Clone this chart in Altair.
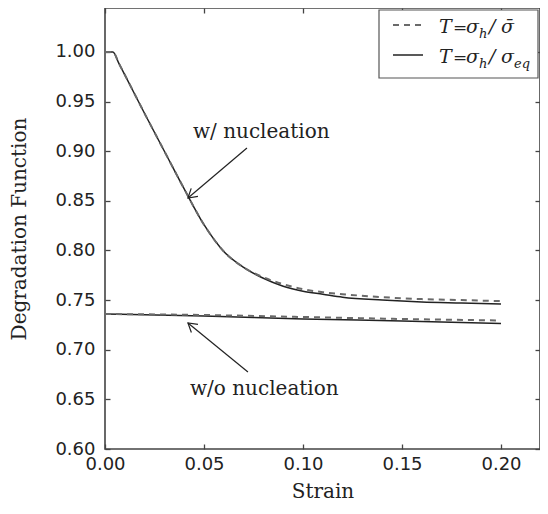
import math
import altair as alt
import pandas as pd

# ---------------- data ----------------
strain_w = [0.0, 0.004, 0.007, 0.01, 0.02, 0.03, 0.04, 0.05, 0.06, 0.07, 0.08, 0.09,
            0.10, 0.11, 0.12, 0.14, 0.16, 0.18, 0.20]
w_nuc_eq = [1.000, 1.000, 0.9885, 0.977, 0.938, 0.900, 0.862, 0.826, 0.799, 0.783, 0.772,
            0.764, 0.759, 0.756, 0.753, 0.750, 0.748, 0.747, 0.746]
w_nuc_bar = [1.000, 1.000, 0.9885, 0.977, 0.938, 0.900, 0.862, 0.826, 0.799, 0.783, 0.773,
             0.766, 0.761, 0.758, 0.756, 0.753, 0.751, 0.750, 0.749]

strain_wo = [0.0, 0.05, 0.10, 0.15, 0.20]
wo_nuc_eq = [0.736, 0.734, 0.731, 0.729, 0.7265]
wo_nuc_bar = [0.736, 0.735, 0.733, 0.731, 0.7295]

x_ticks = [0.0, 0.05, 0.10, 0.15, 0.20]
y_ticks = [0.60, 0.65, 0.70, 0.75, 0.80, 0.85, 0.90, 0.95, 1.00]

ann_labels = ["w/ nucleation", "w/o nucleation"]
ann_text_x = [0.0444, 0.0429]
ann_text_y = [0.9133, 0.6544]
arrow_x0 = [0.0717, 0.0722]
arrow_y0 = [0.9033, 0.6776]
arrow_x1 = [0.0419, 0.0419]
arrow_y1 = [0.8529, 0.7270]

# ---------------- layout ----------------
W, H = 435, 441
XMAX = 0.2197
YMIN, YMAX = 0.60, 1.0443
PX = W / XMAX
PY = H / (YMAX - YMIN)

xs = alt.Scale(domain=[0, XMAX], nice=False, zero=False)
ys = alt.Scale(domain=[YMIN, YMAX], nice=False, zero=False)

INK = "#222222"
AX = "#444444"

common_axis = dict(grid=False, domain=False, tickSize=5, offset=-5,
                   tickColor=AX, tickWidth=1.3, labelFlush=False,
                   labelFont="DejaVu Sans", labelFontSize=18, labelColor=INK,
                   titleFont="DejaVu Serif", titleFontSize=20,
                   titleFontWeight="normal", titleColor=INK)

x_bottom = alt.Axis(orient="bottom", values=x_ticks, format=".2f", title="Strain",
                    labelPadding=6, titlePadding=8, **common_axis)
y_left = alt.Axis(orient="left", values=y_ticks, format=".2f",
                  title="Degradation Function", labelPadding=10, titlePadding=25,
                  **common_axis)
x_top = alt.Axis(orient="top", values=x_ticks, labels=False, title=None, **common_axis)
y_right = alt.Axis(orient="right", values=y_ticks, labels=False, title=None, **common_axis)

solid_df = pd.concat([
    pd.DataFrame({"strain": strain_w, "value": w_nuc_eq, "case": "w"}),
    pd.DataFrame({"strain": strain_wo, "value": wo_nuc_eq, "case": "wo"}),
])
dashed_df = pd.concat([
    pd.DataFrame({"strain": strain_w, "value": w_nuc_bar, "case": "w"}),
    pd.DataFrame({"strain": strain_wo, "value": wo_nuc_bar, "case": "wo"}),
])

solid = alt.Chart(solid_df).mark_line(
    color=INK, strokeWidth=1.5, interpolate="monotone"
).encode(
    x=alt.X("strain:Q", scale=xs, axis=x_bottom),
    y=alt.Y("value:Q", scale=ys, axis=y_left),
    detail="case:N",
)

dashed = alt.Chart(dashed_df).mark_line(
    color="#6a6a6a", strokeWidth=2, strokeDash=[6, 5], interpolate="monotone"
).encode(
    x=alt.X("strain:Q", scale=xs, axis=x_top),
    y=alt.Y("value:Q", scale=ys, axis=y_right),
    detail="case:N",
)

# annotations
ann_df = pd.DataFrame({"label": ann_labels, "x": ann_text_x, "y": ann_text_y})
ann_text = alt.Chart(ann_df).mark_text(
    align="left", baseline="alphabetic", font="DejaVu Serif", fontSize=20, color=INK
).encode(
    x=alt.X("x:Q", scale=xs, axis=None),
    y=alt.Y("y:Q", scale=ys, axis=None),
    text="label:N",
)

angles = []
for xa, ya, xb, yb in zip(arrow_x0, arrow_y0, arrow_x1, arrow_y1):
    dx = (xb - xa) * PX
    dy = -(yb - ya) * PY
    angles.append(math.degrees(math.atan2(dx, -dy)) % 360)

arr_df = pd.DataFrame({"x0": arrow_x0, "y0": arrow_y0, "x1": arrow_x1,
                       "y1": arrow_y1, "angle": angles})
arrow_line = alt.Chart(arr_df).mark_rule(color=INK, strokeWidth=1.2).encode(
    x=alt.X("x0:Q", scale=xs, axis=None),
    y=alt.Y("y0:Q", scale=ys, axis=None),
    x2="x1:Q",
    y2="y1:Q",
)
arrow_head = alt.Chart(arr_df).mark_point(
    shape="M -0.6 1 L 0 0 L 0.6 1", filled=False, size=300,
    color=INK, strokeWidth=1.2, opacity=1
).encode(
    x=alt.X("x1:Q", scale=xs, axis=None),
    y=alt.Y("y1:Q", scale=ys, axis=None),
    angle=alt.Angle("angle:Q", scale=None),
)

# legend (drawn by hand, pixel placement)
LX = -9
one = pd.DataFrame({"k": [0]})
leg_box = alt.Chart(one).mark_rect(fill="white", stroke="#555555", strokeWidth=1.2).encode(
    x=alt.value(283 + LX), x2=alt.value(442 + LX), y=alt.value(2), y2=alt.value(70)
)
leg_dash = alt.Chart(one).mark_rule(color="#6a6a6a", strokeWidth=2, strokeDash=[6, 5]).encode(
    x=alt.value(297 + LX), x2=alt.value(327 + LX), y=alt.value(17)
)
leg_solid = alt.Chart(one).mark_rule(color=INK, strokeWidth=1.5).encode(
    x=alt.value(297 + LX), x2=alt.value(327 + LX), y=alt.value(47)
)

leg_italic = pd.DataFrame({
    "t": ["T", "σ", "/", "σ\u0304", "T", "σ", "/", "σ"],
    "px": [343, 370, 393, 405, 343, 370, 393, 405],
    "py": [25, 25, 25, 25, 55, 55, 55, 55],
})
leg_sub = pd.DataFrame({
    "t": ["h", "h", "eq"],
    "px": [383, 383, 418],
    "py": [30, 60, 60],
})
leg_eq = pd.DataFrame({"t": ["=", "="], "px": [357, 357], "py": [25, 55]})
for d in (leg_italic, leg_sub, leg_eq):
    d["px"] = d["px"] + LX

leg_t1 = alt.Chart(leg_italic).mark_text(
    align="left", baseline="alphabetic", font="DejaVu Serif", fontStyle="italic",
    fontSize=19, color=INK
).encode(x=alt.X("px:Q", scale=None, axis=None), y=alt.Y("py:Q", scale=None, axis=None), text="t:N")
leg_t2 = alt.Chart(leg_sub).mark_text(
    align="left", baseline="alphabetic", font="DejaVu Serif", fontStyle="italic",
    fontSize=13, color=INK
).encode(x=alt.X("px:Q", scale=None, axis=None), y=alt.Y("py:Q", scale=None, axis=None), text="t:N")
leg_t3 = alt.Chart(leg_eq).mark_text(
    align="left", baseline="alphabetic", font="DejaVu Serif",
    fontSize=17, color=INK
).encode(x=alt.X("px:Q", scale=None, axis=None), y=alt.Y("py:Q", scale=None, axis=None), text="t:N")

chart = alt.layer(
    solid, dashed, ann_text, arrow_line, arrow_head,
    leg_box, leg_dash, leg_solid, leg_t1, leg_t2, leg_t3,
).properties(
    width=W, height=H,
    padding={"left": 97, "top": 0, "right": 0, "bottom": 53},
    autosize=alt.AutoSizeParams(type="none"),
    background="white",
).configure_view(
    stroke=AX, strokeWidth=1.6
)

chart.save("out.html", embed_options={"renderer": "svg", "actions": False})
